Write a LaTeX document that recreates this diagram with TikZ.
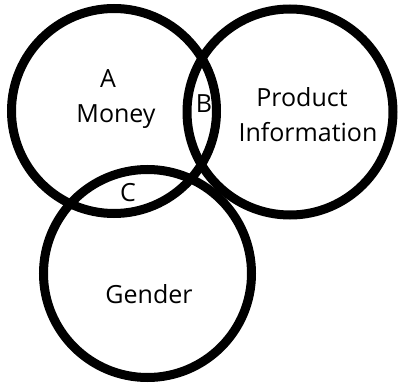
\documentclass[tikz,border=0pt]{standalone}
\usepackage{fontspec}
\setmainfont{Open Sans}
\begin{document}
\begin{tikzpicture}[x=1pt,y=-1pt,
  ring/.style={draw=black,line width=9pt,circle,inner sep=0pt},
  lbl/.style={font=\fontsize{25}{30}\selectfont,inner sep=0pt,anchor=base}]
\useasboundingbox (0,0) rectangle (399,385);
\node[ring,minimum size=205pt] (money) at (114,111) {};
\node[ring,minimum size=206pt] (product) at (290,112) {};
\node[ring,minimum size=208pt] (gender) at (147.5,273.5) {};
\node[lbl] (a) at (108,88) {A};
\node[lbl] (mon) at (116,123) {Money};
\node[lbl] (b) at (204,113) {B};
\node[lbl] (prod) at (302,107) {Product};
\node[lbl] (info) at (308,142) {Information};
\node[lbl] (c) at (128,201) {C};
\node[lbl] (gen) at (149,303) {Gender};
\end{tikzpicture}
\end{document}
